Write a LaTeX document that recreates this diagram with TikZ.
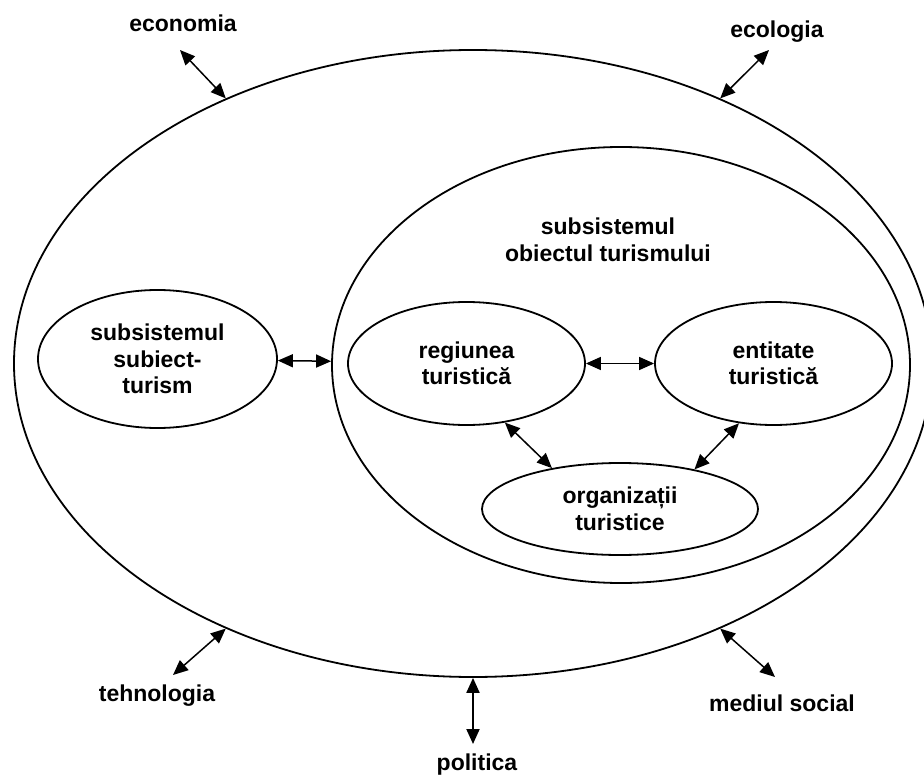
\documentclass[tikz,border=0pt]{standalone}
\usepackage{fontspec}
\setmainfont{Liberation Sans}
\usetikzlibrary{shapes.geometric,arrows.meta}
\begin{document}
\begin{tikzpicture} [x = 1pt, y = -1pt,
	lbl/.style = {font = \fontsize{23}{26.5}\selectfont\bfseries, align = center, inner sep = 0},
	oval/.style = {ellipse, draw, line width = 1.8pt, lbl},
	link/.style = {{Triangle[length = 15pt, width = 13pt]}-{Triangle[length = 15pt, width = 13pt]}, line width = 1.5pt},
	]
	\clip (0, 0) rectangle (924, 778);
	 \node [oval, minimum width = 918, minimum height = 627] (sistem) at (473, 363.5) {};
	 \node [oval, minimum width = 578, minimum height = 436] (obiect) at (621, 365) {};
	 \node [lbl] (obiecttxt) at (608, 240) {subsistemul\\obiectul turismului};
	 \node [oval, minimum width = 239, minimum height = 138] (subiect) at (157.5, 359) {subsistemul\\subiect-\\turism};
	 \node [oval, minimum width = 237, minimum height = 123] (regiunea) at (466.5, 363.5) {regiunea\\turistică};
	 \node [oval, minimum width = 237, minimum height = 123] (entitate) at (773.5, 363.5) {entitate\\turistică};
	 \node [oval, minimum width = 276, minimum height = 92] (organizatii) at (620, 509) {organizații\\turistice};
%	 factors around the system
	 \node [lbl] (economia) at (183, 23) {economia};
	 \node [lbl] (ecologia) at (777, 32) {ecologia};
	 \node [lbl] (tehnologia) at (157, 696) {tehnologia};
	 \node [lbl] (mediul) at (782, 703.5) {mediul social};
	 \node [lbl] (politica) at (477, 765) {politica};
	 \coordinate (ecoend) at (180, 50);
	 \coordinate (ecolend) at (769, 50);
	 \coordinate (tehend) at (173, 675);
	 \coordinate (medend) at (775, 677);
	 \coordinate (polend) at (473, 744);
	\draw [link] (ecoend) -- (sistem.133);
	\draw [link] (ecolend) -- (sistem.47);
	\draw [link] (tehend) -- (sistem.-133);
	\draw [link] (medend) -- (sistem.-47);
	\draw [link, line width = 2pt] (polend) -- (sistem.south);
	\draw [link] (subiect) -- (obiect);
	\draw [link] (regiunea) -- (entitate);
	\draw [link] (regiunea.-57) -- (organizatii.149);
	\draw [link] (entitate.-120) -- (organizatii.28);
\end{tikzpicture}
\end{document}
